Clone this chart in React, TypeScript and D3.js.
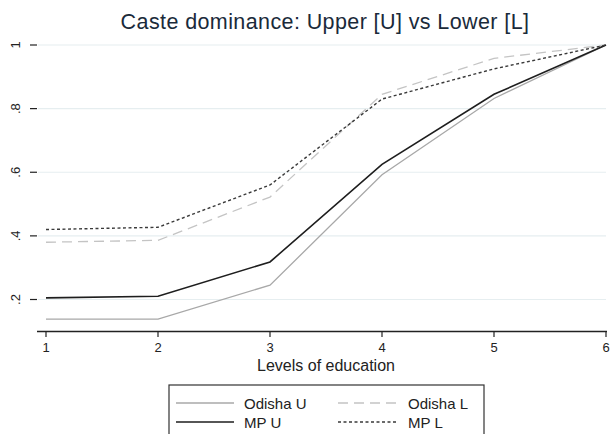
import React from "react";
import * as d3 from "d3";

const levels = [1, 2, 3, 4, 5, 6];
const odishaU = [0.138, 0.138, 0.245, 0.592, 0.832, 1];
const mpU = [0.205, 0.21, 0.318, 0.625, 0.845, 1];
const odishaL = [0.38, 0.386, 0.522, 0.845, 0.958, 1];
const mpL = [0.42, 0.427, 0.56, 0.83, 0.925, 1];
const yTicks = [0.2, 0.4, 0.6, 0.8, 1];
const yTickLabels = [".2", ".4", ".6", ".8", "1"];
const title = "Caste dominance: Upper [U] vs Lower [L]";
const xTitle = "Levels of education";

const seriesDefs = [
  { name: "Odisha U", values: odishaU, color: "#a8a8a8", dash: "", width: 1.3 },
  { name: "Odisha L", values: odishaL, color: "#c4c4c4", dash: "10,6", width: 1.3 },
  { name: "MP U", values: mpU, color: "#1e1e1e", dash: "", width: 1.6 },
  { name: "MP L", values: mpL, color: "#3a3a3a", dash: "3,2.5", width: 1.4 },
];

export default function App() {
  const W = 611, H = 434;
  const x = d3.scaleLinear().domain([1, 6]).range([46, 606]);
  const y = d3.scaleLinear().domain([0.2, 1]).range([299.5, 45]);
  const line = d3.line<number>().x((_, i) => x(levels[i])).y((v) => y(v));
  const font = "'Liberation Sans', Arial, sans-serif";

  const legendRows = [
    [seriesDefs[0], seriesDefs[1]],
    [seriesDefs[2], seriesDefs[3]],
  ];

  return (
    <svg width={W} height={H} style={{ position: "absolute", left: 0, top: 0, background: "#fff" }} fontFamily={font}>
      <rect width={W} height={H} fill="#fff" />
      <text x={325} y={29} textAnchor="middle" fontSize={21.5} letterSpacing={0.4} fill="#1a2a3a">{title}</text>
      {yTicks.map((t, i) => (
        <g key={t}>
          <line x1={38} x2={606} y1={y(t)} y2={y(t)} stroke="#e6eef0" strokeWidth={1.2} />
          <line x1={30} x2={37} y1={y(t)} y2={y(t)} stroke="#222" strokeWidth={1.2} />
          <text transform={`translate(20,${y(t)}) rotate(-90)`} textAnchor="middle" fontSize={13} fill="#222">{yTickLabels[i]}</text>
        </g>
      ))}
      <line x1={37} x2={607} y1={331.5} y2={331.5} stroke="#222" strokeWidth={1.3} />
      {levels.map((l) => (
        <g key={l}>
          <line x1={x(l)} x2={x(l)} y1={331.5} y2={337} stroke="#222" strokeWidth={1.2} />
          <text x={x(l)} y={352} textAnchor="middle" fontSize={13} fill="#222">{l}</text>
        </g>
      ))}
      <text x={326} y={371} textAnchor="middle" fontSize={16} fill="#222">{xTitle}</text>
      {seriesDefs.map((s) => (
        <path key={s.name} d={line(s.values) || ""} fill="none" stroke={s.color} strokeWidth={s.width} strokeDasharray={s.dash} />
      ))}
      <rect x={169} y={385} width={315} height={60} fill="#fff" stroke="#333" strokeWidth={1.2} />
      {legendRows.map((row, r) =>
        row.map((s, c) => {
          const ly = 403 + r * 19;
          const lx0 = c === 0 ? 176 : 338;
          const tx = c === 0 ? 244 : 408;
          return (
            <g key={s.name}>
              <line x1={lx0} x2={lx0 + 58} y1={ly} y2={ly} stroke={s.color} strokeWidth={s.width} strokeDasharray={s.dash} />
              <text x={tx} y={ly + 5.5} fontSize={15} fill="#222">{s.name}</text>
            </g>
          );
        })
      )}
    </svg>
  );
}
